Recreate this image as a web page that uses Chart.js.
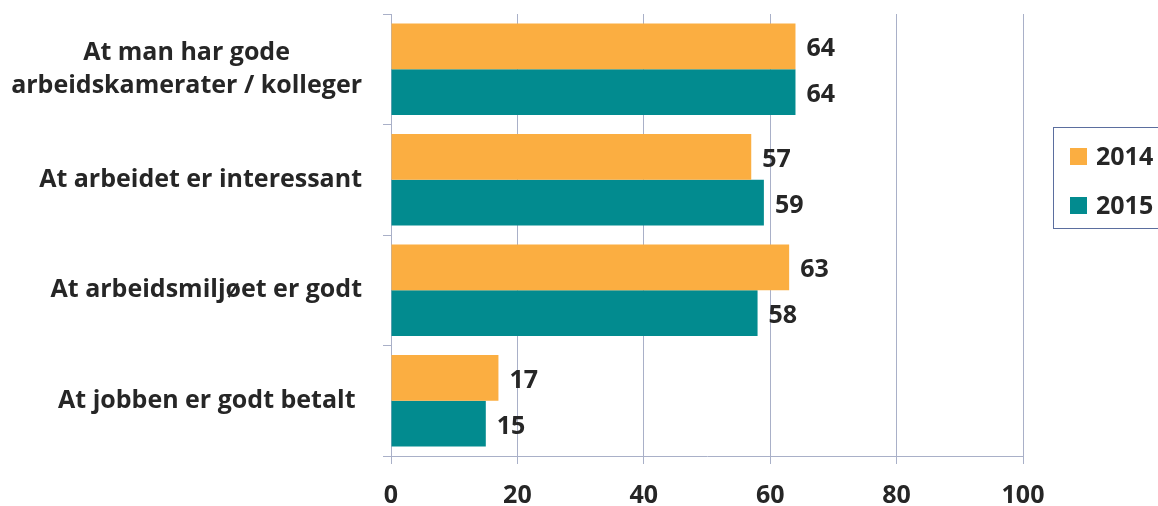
<!DOCTYPE html>
<html>
<head>
<meta charset="utf-8">
<script src="https://cdn.jsdelivr.net/npm/chart.js@4"></script>
<style>
  html, body { margin: 0; padding: 0; background: #fff; }
  #wrap { width: 1158px; height: 506px; }
</style>
</head>
<body>
<div id="wrap"><canvas id="chart-jobb"></canvas></div>
<script>
const categories = [
    ['At man har gode', 'arbeidskamerater / kolleger'],
    ['At arbeidet er interessant'],
    ['At arbeidsmiljøet er godt'],
    ['At jobben er godt betalt ']
];
const series2014 = [64, 57, 63, 17];
const series2015 = [64, 59, 58, 15];
const xTicks = [0, 20, 40, 60, 80, 100];

const FONT = '"Open Sans", "Liberation Sans", sans-serif';
const TEXT = '#262626';
const GRID = '#a9b0c8';
const SIZE = 25;

// y labels: block right aligned, lines centred inside the block
const yLabels = {
    id: 'yLabels',
    afterDraw(chart) {
        const ctx = chart.ctx;
        const y = chart.scales.y;
        ctx.save();
        ctx.font = 'bold ' + SIZE + 'px ' + FONT;
        ctx.fillStyle = TEXT;
        ctx.textAlign = 'center';
        ctx.textBaseline = 'middle';
        categories.forEach(function (lines, i) {
            const w = Math.max.apply(null, lines.map(l => ctx.measureText(l).width));
            const cx = 362 - w / 2;
            const cy = y.getPixelForTick(i);
            const lh = 33;
            lines.forEach(function (l, j) {
                ctx.fillText(l, cx, cy + (j - (lines.length - 1) / 2) * lh);
            });
        });
        ctx.restore();
    }
};

const valueLabels = {
    id: 'valueLabels',
    afterDatasetsDraw(chart) {
        const ctx = chart.ctx;
        ctx.save();
        ctx.font = 'bold ' + SIZE + 'px ' + FONT;
        ctx.fillStyle = TEXT;
        ctx.textAlign = 'left';
        ctx.textBaseline = 'middle';
        chart.data.datasets.forEach(function (ds, di) {
            chart.getDatasetMeta(di).data.forEach(function (bar, i) {
                ctx.fillText(ds.data[i], bar.x + 11, bar.y + 3);
            });
        });
        ctx.restore();
    }
};

const boxLegend = {
    id: 'boxLegend',
    afterDraw(chart) {
        const ctx = chart.ctx;
        ctx.save();
        ctx.strokeStyle = '#5b6e9e';
        ctx.lineWidth = 1;
        ctx.strokeRect(1053.5, 127.5, 120, 101);
        ctx.font = 'bold ' + SIZE + 'px ' + FONT;
        ctx.textBaseline = 'middle';
        chart.data.datasets.forEach(function (ds, i) {
            const cy = 156 + i * 49;
            ctx.fillStyle = ds.backgroundColor;
            ctx.fillRect(1070, cy - 8, 17, 17);
            ctx.fillStyle = TEXT;
            ctx.fillText(ds.label, 1096, cy + 2);
        });
        ctx.restore();
    }
};

new Chart(document.getElementById('chart-jobb'), {
    type: 'bar',
    data: {
        labels: categories,
        datasets: [{
            label: '2014',
            data: series2014,
            backgroundColor: '#fbae41'
        }, {
            label: '2015',
            data: series2015,
            backgroundColor: '#028b8f'
        }]
    },
    options: {
        indexAxis: 'y',
        responsive: true,
        maintainAspectRatio: false,
        animation: false,
        categoryPercentage: 0.83,
        barPercentage: 1,
        layout: { padding: { top: 14, right: 135, left: 0, bottom: 0 } },
        plugins: {
            legend: { display: false },
            tooltip: { enabled: false }
        },
        scales: {
            x: {
                min: 0,
                max: 100,
                afterBuildTicks(scale) {
                    scale.ticks = xTicks.map(v => ({ value: v }));
                },
                afterFit(scale) { scale.height = 50; },
                grid: { color: GRID, tickLength: 8 },
                border: { color: GRID },
                ticks: {
                    font: { family: FONT, size: SIZE, weight: 'bold' },
                    color: TEXT,
                    padding: 17
                }
            },
            y: {
                afterFit(scale) { scale.width = 391; },
                grid: { offset: true, drawOnChartArea: false, color: GRID, tickLength: 8 },
                border: { color: GRID },
                ticks: { display: false }
            }
        }
    },
    plugins: [yLabels, valueLabels, boxLegend]
});
</script>
</body>
</html>
